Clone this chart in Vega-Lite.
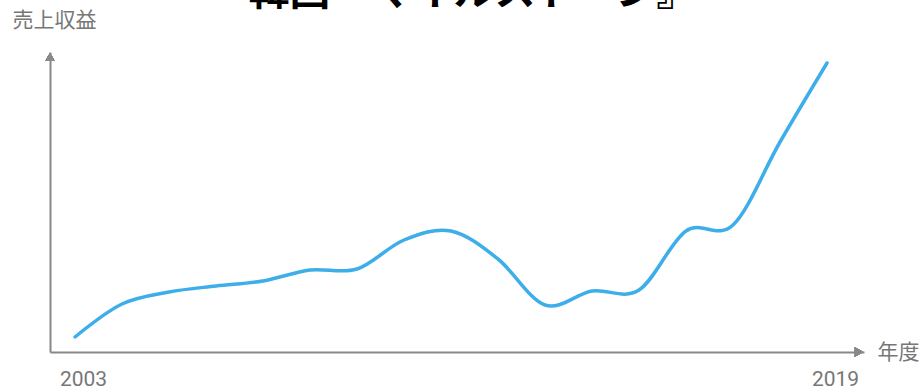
{
  "$schema": "https://vega.github.io/schema/vega-lite/v6.json",
  "width": 814,
  "height": 300,
  "autosize": {"type": "none"},
  "padding": {"left": 50, "top": 52, "right": 56, "bottom": 38},
  "background": "white",
  "title": {
    "text": "韓国『マイルストーン』",
    "font": "Noto Sans CJK JP",
    "fontSize": 41,
    "fontWeight": "bold",
    "color": "#000000",
    "anchor": "middle",
    "baseline": "alphabetic",
    "offset": 0,
    "dy": 37,
    "dx": 16
  },
  "config": {
    "view": {"stroke": null},
    "font": "Roboto"
  },
  "data": {
    "values": [
      {"year": 2003, "revenue": 15},
      {"year": 2004, "revenue": 48},
      {"year": 2005, "revenue": 60},
      {"year": 2006, "revenue": 66},
      {"year": 2007, "revenue": 71},
      {"year": 2008, "revenue": 82},
      {"year": 2009, "revenue": 83},
      {"year": 2010, "revenue": 112},
      {"year": 2011, "revenue": 121},
      {"year": 2012, "revenue": 93},
      {"year": 2013, "revenue": 47},
      {"year": 2014, "revenue": 61},
      {"year": 2015, "revenue": 62},
      {"year": 2016, "revenue": 121},
      {"year": 2017, "revenue": 127},
      {"year": 2018, "revenue": 210},
      {"year": 2019, "revenue": 289}
    ]
  },
  "encoding": {
    "x": {
      "field": "year",
      "type": "quantitative",
      "scale": {"domain": [2002.468, 2019.787], "nice": false, "zero": false},
      "axis": {
        "values": [2003, 2019],
        "format": "d",
        "ticks": false,
        "grid": false,
        "domainColor": "#888888",
        "domainWidth": 2,
        "labelColor": "#777777",
        "labelFont": "Roboto",
        "labelFontSize": 21,
        "labelPadding": 16,
        "labelOffset": 8,
        "labelFlush": false,
        "title": "年度",
        "titleFont": "Noto Sans CJK JP",
        "titleFontSize": 21,
        "titleFontWeight": "normal",
        "titleColor": "#777777",
        "titleX": 827,
        "titleY": 0,
        "titleAlign": "left",
        "titleBaseline": "middle",
        "titleAngle": 0
      }
    },
    "y": {
      "field": "revenue",
      "type": "quantitative",
      "scale": {"domain": [0, 300], "nice": false, "zero": true},
      "axis": {
        "labels": false,
        "ticks": false,
        "grid": false,
        "domainColor": "#888888",
        "domainWidth": 2,
        "title": "売上収益",
        "titleFont": "Noto Sans CJK JP",
        "titleFontSize": 21,
        "titleFontWeight": "normal",
        "titleColor": "#777777",
        "titleAngle": 0,
        "titleX": -38,
        "titleY": -32,
        "titleAlign": "left",
        "titleBaseline": "middle"
      }
    }
  },
  "layer": [
    {
      "mark": {"type": "line", "interpolate": "cardinal", "strokeWidth": 3.5, "color": "#3daee9", "strokeCap": "round"}
    },
    {
      "mark": {"type": "point", "shape": "triangle-up", "filled": true, "color": "#888888", "size": 90, "opacity": 1},
      "encoding": {"x": {"datum": 2002.468, "type": "quantitative"}, "y": {"datum": 295, "type": "quantitative"}}
    },
    {
      "mark": {"type": "point", "shape": "triangle-right", "filled": true, "color": "#888888", "size": 90, "opacity": 1},
      "encoding": {"x": {"datum": 2019.68, "type": "quantitative"}, "y": {"datum": 0, "type": "quantitative"}}
    }
  ]
}
